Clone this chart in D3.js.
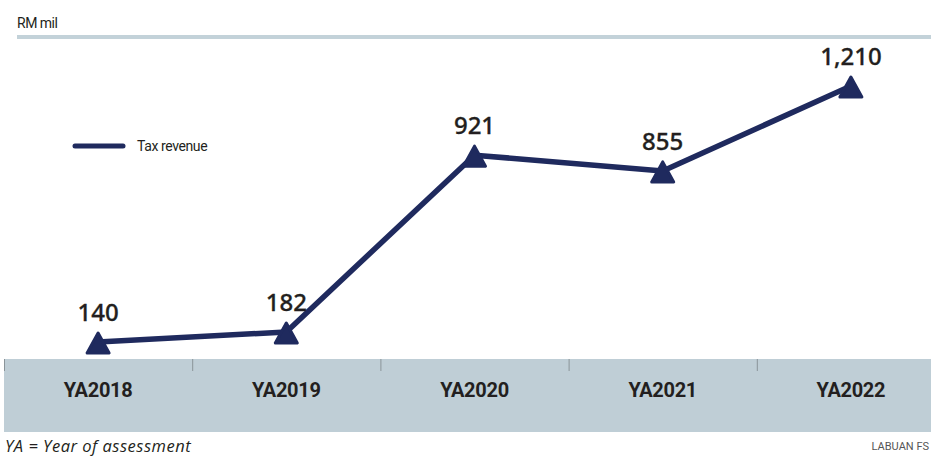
<!DOCTYPE html>
<html><head><meta charset="utf-8">
<script src="https://cdn.jsdelivr.net/npm/d3@7"></script>
<style>
html,body{margin:0;padding:0;background:#fff;}
svg{display:block;}
</style></head>
<body>
<svg id="chart" width="931" height="458"></svg>
<script>
const categories = ["YA2018","YA2019","YA2020","YA2021","YA2022"];
const taxRevenue = [140,182,921,855,1210];
const valueLabels = ["140","182","921","855","1,210"];
const seriesName = "Tax revenue";
const unitLabel = "RM mil";
const footnote = "YA = Year of assessment";
const source = "LABUAN FS";

const svg = d3.select("#chart");
const W = 931, H = 458;
const navy = "#1f2a5e", band = "#bfced6", dark = "#231f20";

const x = d3.scaleBand().domain(categories).range([4, 945]).padding(0);
const y = d3.scaleLinear().domain([0, 1210]).range([375.5, 86]);

// top rule and unit label
svg.append("rect").attr("x",17).attr("y",35).attr("width",W-17).attr("height",4).attr("fill","#c3d2d9");
svg.append("text").attr("x",17).attr("y",28).attr("font-family","Roboto, 'Noto Sans', sans-serif")
  .attr("font-size",14).attr("fill",dark).attr("letter-spacing",-0.5).text(unitLabel);

// category band
svg.append("rect").attr("x",4).attr("y",359).attr("width",W-4).attr("height",73).attr("fill",band);
const xAxis = d3.axisBottom(x).tickSize(0).tickPadding(0);
const gx = svg.append("g").attr("transform","translate(0,359)").call(xAxis);
gx.select(".domain").remove();
gx.selectAll(".tick text").attr("dy",0).attr("y",38)
  .attr("font-family","Roboto, sans-serif").attr("font-weight","bold").attr("font-size",20)
  .attr("fill",dark).attr("letter-spacing",-0.3);
// boundary ticks
svg.append("g").selectAll("line").data(categories).join("line")
  .attr("x1",d=>x(d)+0.5).attr("x2",d=>x(d)+0.5).attr("y1",359).attr("y2",371)
  .attr("stroke","#8a9499").attr("stroke-width",1);

// line
const pts = categories.map((c,i)=>({c, v:taxRevenue[i], l:valueLabels[i]}));
const line = d3.line().x(d=>x(d.c)+x.bandwidth()/2).y(d=>y(d.v));
svg.append("path").datum(pts).attr("d",line).attr("fill","none")
  .attr("stroke",navy).attr("stroke-width",5.5).attr("stroke-linejoin","round");

// triangle markers
const tri = "M0,-10 L11,10 L-11,10 Z";
svg.append("g").selectAll("path").data(pts).join("path")
  .attr("transform",d=>`translate(${x(d.c)+x.bandwidth()/2},${y(d.v)+1})`)
  .attr("d",tri).attr("fill",navy).attr("stroke",navy).attr("stroke-width",3).attr("stroke-linejoin","round");

// value labels
svg.append("g").selectAll("text").data(pts).join("text")
  .attr("x",d=>x(d.c)+x.bandwidth()/2).attr("y",d=>y(d.v)-21)
  .attr("text-anchor","middle").attr("font-family","'Noto Sans', 'Open Sans', sans-serif")
  .attr("font-size",24).attr("font-weight",500).attr("fill",dark)
  .attr("stroke",dark).attr("stroke-width",0.3).text(d=>d.l);

// legend
svg.append("line").attr("x1",75).attr("x2",123).attr("y1",146).attr("y2",146)
  .attr("stroke",navy).attr("stroke-width",5).attr("stroke-linecap","round");
svg.append("text").attr("x",137).attr("y",151).attr("font-family","Roboto, sans-serif")
  .attr("font-size",14).attr("fill",dark).attr("letter-spacing",-0.4).text(seriesName);

// footnotes
svg.append("text").attr("x",5).attr("y",452).attr("font-family","'Open Sans', sans-serif")
  .attr("font-style","italic").attr("font-size",16.5).attr("letter-spacing",0.5).attr("fill",dark).text(footnote);
svg.append("text").attr("x",929).attr("y",450).attr("text-anchor","end").attr("font-family","Roboto, sans-serif")
  .attr("font-size",11).attr("fill","#555").text(source);
</script>
</body></html>
